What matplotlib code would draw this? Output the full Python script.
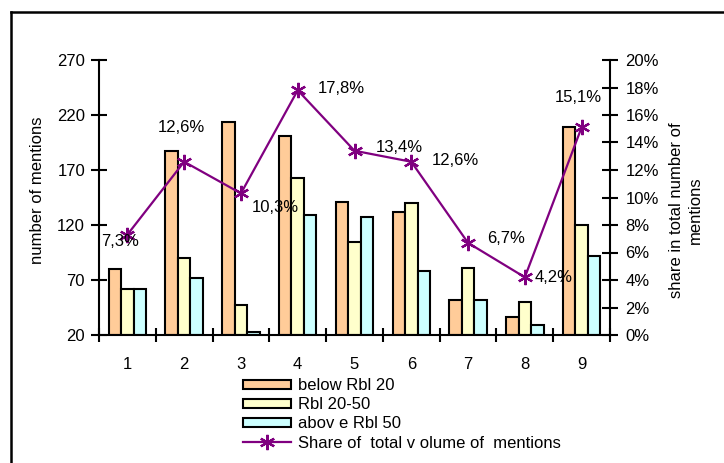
import numpy as np
import matplotlib
matplotlib.use("Agg")
import matplotlib.pyplot as plt
from matplotlib.lines import Line2D

plt.rcParams['font.family'] = ['Liberation Sans', 'DejaVu Sans']

categories = ['1', '2', '3', '4', '5', '6', '7', '8', '9']
below_20 = [80, 187, 214, 201, 141, 132, 52, 36, 209]
rbl_20_50 = [62, 90, 47, 163, 105, 140, 81, 50, 120]
above_50 = [62, 72, 23, 129, 127, 78, 52, 29, 92]
share = [7.3, 12.6, 10.3, 17.8, 13.4, 12.6, 6.7, 4.2, 15.1]
share_labels = ['7,3%', '12,6%', '10,3%', '17,8%', '13,4%', '12,6%', '6,7%', '4,2%', '15,1%']
# label offsets from each marker, pixels
label_offsets = [(-7, -7), (-3, 34), (34, -14), (44, 2), (45, 3), (44, 1), (38, 4), (29, 0), (-3, 30)]

FS = 12

fig = plt.figure(figsize=(7.24, 4.63), dpi=100)
ax = fig.add_axes([99 / 724, 1 - 335 / 463, 511 / 724, 275 / 463])
ax2 = ax.twinx()

x = np.arange(1, len(categories) + 1)
w = 0.22
edge = dict(edgecolor='black', linewidth=1.5)
b1 = ax.bar(x - w, np.array(below_20) - 20, w, bottom=20, color='#FFCC99', label='below Rbl 20', **edge)
b2 = ax.bar(x, np.array(rbl_20_50) - 20, w, bottom=20, color='#FFFFCC', label='Rbl 20-50', **edge)
b3 = ax.bar(x + w, np.array(above_50) - 20, w, bottom=20, color='#CCFFFF', label='abov e Rbl 50', **edge)

ax.set_xlim(0.5, 9.5)
ax.set_ylim(20, 270)
ax.set_yticks([20, 70, 120, 170, 220, 270])
ax.set_xticks(x)
ax.set_xticklabels(categories)
ax.set_xticks(np.arange(0.5, 10, 1), minor=True)
ax.tick_params(axis='x', which='major', length=0, pad=16, labelsize=FS)
ax.tick_params(axis='x', which='minor', direction='inout', length=10, width=1.5)
ax.tick_params(axis='y', direction='inout', length=12, width=1.5, labelsize=FS, pad=4)
for s in ['top', 'right']:
    ax.spines[s].set_visible(False)
ax.spines['left'].set_linewidth(1.5)
ax.spines['bottom'].set_linewidth(1.5)

ax2.set_ylim(0, 0.20)
ax2.set_yticks(np.arange(0, 0.201, 0.02))
ax2.set_yticklabels(['%d%%' % v for v in range(0, 21, 2)])
ax2.tick_params(axis='y', direction='inout', length=12, width=1.5, labelsize=FS, pad=5)
for s in ['top', 'left', 'bottom']:
    ax2.spines[s].set_visible(False)
ax2.spines['right'].set_linewidth(1.5)

vals = np.array(share) / 100
line, = ax2.plot(x, vals, color='#800080', linewidth=1.6, marker=(6, 2, 0),
                 markersize=11, markeredgewidth=1.6, label='Share of  total v olume of  mentions')
for xi, v, lab, (dx, dy) in zip(x, vals, share_labels, label_offsets):
    ax2.annotate(lab, (xi, v), xytext=(dx, dy), textcoords='offset pixels',
                 ha='center', va='center', fontsize=FS)

fig.text(38 / 724, 1 - 190 / 463, 'number of mentions', rotation=90,
         ha='center', va='center', fontsize=FS)
fig.text(686 / 724, 1 - 210 / 463, 'share in total number of\nmentions', rotation=90,
         ha='center', va='center', fontsize=FS, multialignment='center', linespacing=1.35)

fig.legend(handles=[b1, b2, b3, line], loc='upper left',
           bbox_to_anchor=(243 / 724, 1 - 378 / 463), frameon=False,
           fontsize=FS, handlelength=2.9, handleheight=0.45, handletextpad=0.4,
           labelspacing=0.25, borderpad=0, borderaxespad=0)

# outer frame
fig.add_artist(Line2D([11 / 724, 11 / 724], [0, 1 - 12 / 463], transform=fig.transFigure,
                      color='black', linewidth=1.8))
fig.add_artist(Line2D([11 / 724, 1], [1 - 12 / 463, 1 - 12 / 463], transform=fig.transFigure,
                      color='black', linewidth=1.8))
# tail of the heading above
fig.text(0, 1 + 4 / 463, 'p', family='Liberation Serif', weight='bold', fontsize=13, va='baseline')
fig.text(82 / 724, 1 + 4 / 463, 'y', family='Liberation Serif', weight='bold', fontsize=13, va='baseline')

fig.savefig('out.png', dpi=100)
